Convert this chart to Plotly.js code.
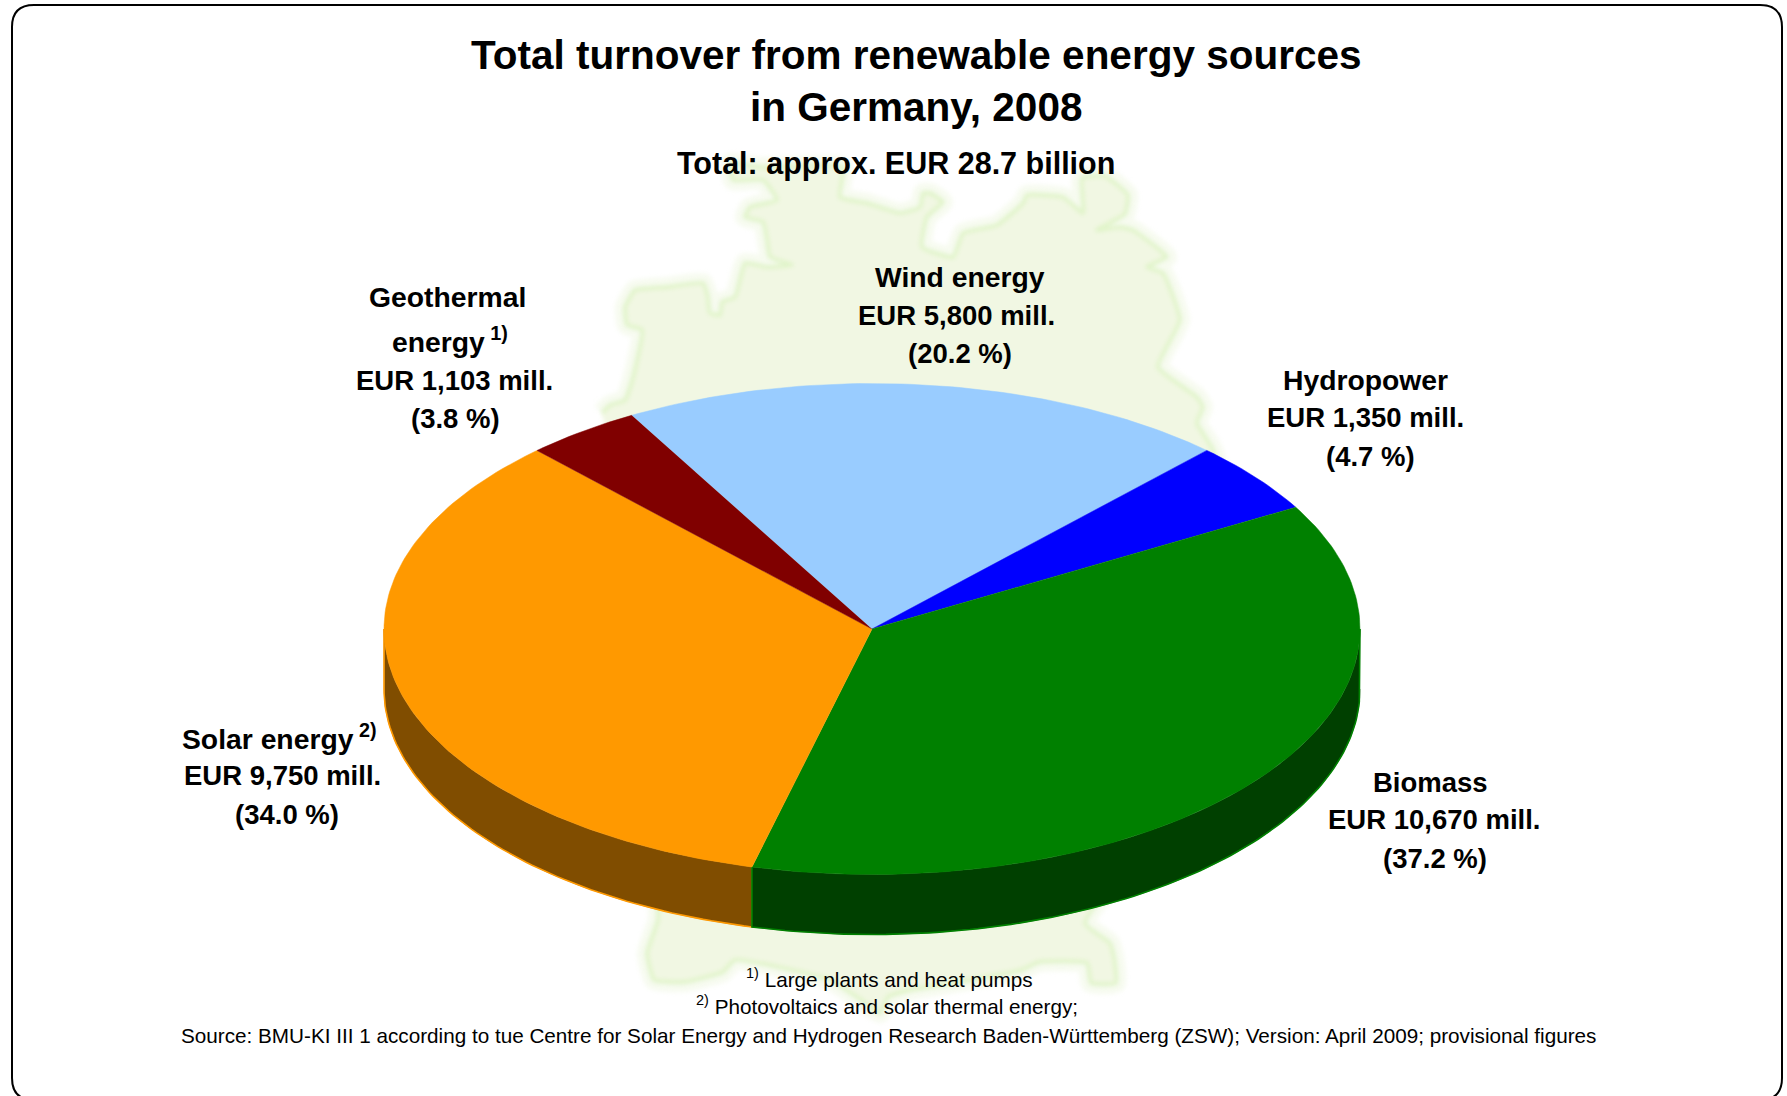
<!DOCTYPE html>
<html>
<head>
<meta charset="utf-8">
<title>Total turnover from renewable energy sources in Germany, 2008</title>
<script src="https://cdn.plot.ly/plotly-3.0.1.min.js"></script>
<style>html,body{margin:0;padding:0;background:#fff;overflow:hidden}#chart{width:1787px;height:1096px}</style>
</head>
<body>
<div id="chart"></div>
<script>
// Turnover by source, EUR million, clockwise from the wind slice
const sources = ["Wind energy", "Hydropower", "Biomass", "Solar energy", "Geothermal energy"];
const turnover = [5800, 1350, 10670, 9750, 1103];
const faceColors = ["#99CCFF", "#0000FF", "#008000", "#FF9900", "#800000"];
const wallColors = ["#4D6680", "#000080", "#004000", "#804D00", "#400000"];

// Background outline of Germany
const mapX = [602,610,625,633,642,627,625,635,667,703,708,710,720,722,735,745,767,792,770,767,763,745,750,777,763,733,730,760,843,840,867,900,920,923,930,943,927,922,953,963,997,1023,1027,1063,1083,1082,1105,1128,1125,1097,1120,1133,1160,1167,1147,1163,1180,1158,1197,1203,1197,1213,1250,1085,1110,1114,1116,1091,1087,1039,1022,960,911,888,880,861,830,735,723,685,654,647,658,658,640];
const mapY = [413,405,400,377,330,325,307,290,287,283,297,313,315,302,297,263,267,265,257,240,222,217,207,200,180,180,163,167,167,197,203,213,207,193,193,202,217,247,257,233,225,203,195,197,213,178,176,195,214,230,227,230,250,257,267,273,320,367,397,407,423,450,700,923,943,957,983,983,963,962,970,982,990,997,1013,1000,980,960,972,982,980,953,920,910,600];

// Layout of the tilted pie, in page pixels
const W = 1787, H = 1096;
const cx = 872, cy = 629, rx = 488, ry = 245.5, depth = 60;
const startAngle = -29.5;

const total = turnover.reduce((a, b) => a + b, 0);
const rim = (deg, drop) => {
  const t = deg * Math.PI / 180;
  return [cx + rx * Math.sin(t), cy - ry * Math.cos(t) + drop];
};
const arc = (from, to, drop) => {
  const n = Math.max(2, Math.ceil(Math.abs(to - from)));
  return Array.from({length: n + 1}, (_, i) => rim(from + (to - from) * i / n, drop));
};
const poly = (pts, color, extra) => Object.assign({
  x: pts.map(p => p[0]), y: pts.map(p => p[1]), mode: "lines",
  fill: "toself", fillcolor: color, line: {color: color, width: 0.5},
  hoverinfo: "skip", showlegend: false
}, extra || {});
const stroke = (pts, color) => ({
  x: pts.map(p => p[0]), y: pts.map(p => p[1]), mode: "lines",
  line: {color: color, width: 1.6}, hoverinfo: "skip", showlegend: false
});

const traces = [];

// Map backdrop: a pale fill with a light green coast and border, softened after drawing
const MAP_LAYERS = 2;
traces.push({
  x: mapX, y: mapY, mode: "lines",
  line: {color: "rgba(240,248,226,0.5)", width: 20, shape: "spline", smoothing: 0.4},
  hoverinfo: "skip", showlegend: false
});
traces.push({
  x: mapX, y: mapY, mode: "lines", fill: "toself", fillcolor: "#F1F7E3",
  line: {color: "rgba(212,240,180,0.62)", width: 4, shape: "spline", smoothing: 0.4},
  hoverinfo: "skip", showlegend: false
});

// Walls of the front half, then the slice faces on top
let angle = startAngle;
const slices = turnover.map((v, i) => {
  const from = angle, to = angle + v / total * 360;
  angle = to;
  return {name: sources[i], from, to, face: faceColors[i], wall: wallColors[i]};
});
slices.slice().reverse().forEach(s => {
  const a = Math.max(s.from, 90), b = Math.min(s.to, 270);
  if (b <= a) return;
  const top = arc(a, b, 0), bottom = arc(b, a, depth);
  traces.push(poly(top.concat(bottom), s.wall));
  const edge = arc(a, b, depth);
  edge.unshift(rim(a, 0));
  edge.push(rim(b, 0));
  traces.push(stroke(edge, s.face));
});
slices.forEach(s => {
  traces.push(poly([[cx, cy]].concat(arc(s.from, s.to, 0)), s.face, {name: s.name}));
});

const bold = size => ({family: "Liberation Sans, Arial, sans-serif", size: size, color: "#000"});
const note = (text, x, y, size, weight) => ({
  text: text, x: x, y: y, xref: "x", yref: "y", xanchor: "center", yanchor: "middle",
  showarrow: false, font: Object.assign(bold(size), {weight: weight || 700})
});
const NAME = 28.3, LABEL = 27.5, SMALL = 20.7;
const annotations = [
  note("Total turnover from renewable energy sources", 916, 55, 40.5),
  note("in Germany, 2008", 916, 107, 40.5),
  note("Total: approx. EUR 28.7 billion", 896, 163, 30.5),
  note("Wind energy", 960, 277, NAME),
  note("EUR 5,800 mill.", 956, 315, LABEL),
  note("(20.2 %)", 960, 353, LABEL),
  note("Geothermal", 447, 297, NAME),
  note("energy<sup> 1)</sup>", 450, 340, NAME),
  note("EUR 1,103 mill.", 454, 380, LABEL),
  note("(3.8 %)", 455, 418, LABEL),
  note("Hydropower", 1365, 380, NAME),
  note("EUR 1,350 mill.", 1365, 417, LABEL),
  note("(4.7 %)", 1370, 456, LABEL),
  note("Solar energy<sup> 2)</sup>", 279, 737, NAME),
  note("EUR 9,750 mill.", 282, 775, LABEL),
  note("(34.0 %)", 287, 814, LABEL),
  note("Biomass", 1430, 782, LABEL),
  note("EUR 10,670 mill.", 1434, 819, LABEL),
  note("(37.2 %)", 1435, 858, LABEL),
  note("<sup>1)</sup> Large plants and heat pumps", 889, 978, SMALL, 400),
  note("<sup>2)</sup> Photovoltaics and solar thermal energy;", 887, 1005, SMALL, 400),
  note("Source: BMU-KI III 1 according to tue Centre for Solar Energy and Hydrogen Research Baden-Württemberg (ZSW); Version: April 2009; provisional figures", 888, 1035, SMALL, 400)
];

// Rounded page frame, running off the bottom edge
const frame = "M 12 27 Q 12 5 34 5 L 1760 5 Q 1782 5 1782 27 L 1782 1078 Q 1782 1100 1760 1100 L 34 1100 Q 12 1100 12 1078 Z";

Plotly.newPlot("chart", traces, {
  width: W, height: H,
  margin: {l: 0, r: 0, t: 0, b: 0, pad: 0},
  paper_bgcolor: "#fff", plot_bgcolor: "rgba(0,0,0,0)",
  xaxis: {range: [0, W], visible: false, fixedrange: true},
  yaxis: {range: [H, 0], visible: false, fixedrange: true},
  shapes: [{type: "path", path: frame, xref: "x", yref: "y", layer: "above",
            line: {color: "#000", width: 2}, fillcolor: "rgba(0,0,0,0)"}],
  annotations: annotations,
  showlegend: false
}, {displayModeBar: false, staticPlot: true}).then(gd => {
  // Only the map is soft; slices and text stay crisp
  gd.querySelectorAll(".scatterlayer .trace").forEach((g, i) => {
    if (i < MAP_LAYERS) g.style.filter = "blur(2px)";
  });
});
</script>
</body>
</html>
